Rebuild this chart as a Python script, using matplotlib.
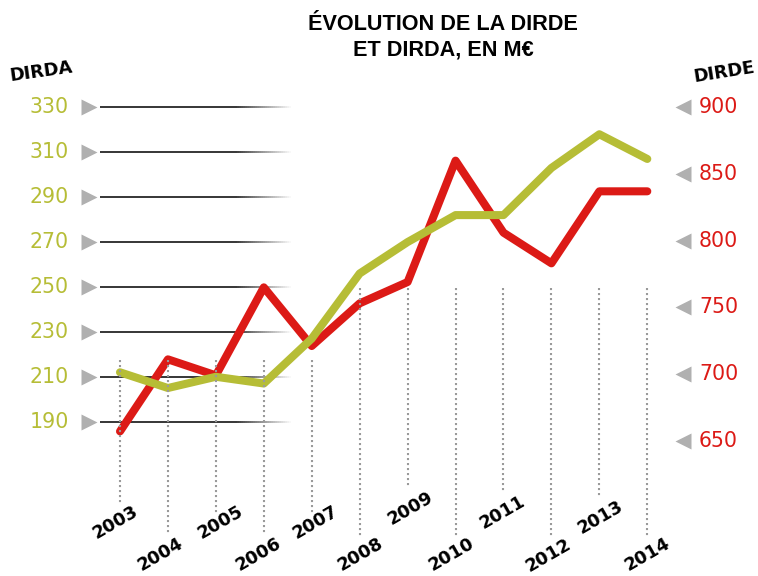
import numpy as np
import matplotlib
matplotlib.use('Agg')
import matplotlib.pyplot as plt
from matplotlib.collections import LineCollection

years = [2003, 2004, 2005, 2006, 2007, 2008, 2009, 2010, 2011, 2012, 2013, 2014]
dirda = [212, 205, 210, 207, 227, 256, 270, 282, 282, 303, 318, 307]   # M€, left axis
dirde = [657, 711, 699, 765, 721, 753, 769, 860, 806, 783, 837, 837]   # M€, right axis
left_ticks = [330, 310, 290, 270, 250, 230, 210, 190]
right_ticks = [900, 850, 800, 750, 700, 650]

GREEN = '#b6bd36'
RED = '#dc1a16'
GREY = '#b0b0b0'

W, H = 758, 576
# pixel <-> data mapping
XS = 47.936            # px per year
X0 = 2003 - 120 / XS   # year at px 0
LS = 2.2457            # px per M€ on left axis
RS = 1.3336            # px per M€ on right axis

def px_x(p):
    return X0 + p / XS

def py_left(p):
    return 330 - (p - 107.3) / LS

fig = plt.figure(figsize=(W / 100, H / 100), dpi=100)
ax = fig.add_axes([0, 0, 1, 1])
ax.set_xlim(X0, X0 + W / XS)
ax.set_ylim(330 - (H - 107.3) / LS, 330 + 107.3 / LS)
ax.axis('off')
ax2 = ax.twinx()
ax2.set_ylim(900 - (H - 107.3) / RS, 900 + 107.3 / RS)
ax2.axis('off')

## left ticks: label, grey arrow, black line fading out to the right
for v in left_ticks:
    ax.text(px_x(69), v, str(v), color=GREEN, fontsize=14.8, ha='right', va='center')
    ax.plot([px_x(88.5)], [v], marker='>', ms=11, color=GREY, mec='none')
    ax.plot([px_x(100), px_x(235)], [v, v], color='black', lw=1.1, solid_capstyle='butt', zorder=1)
    xs = np.linspace(235, 293, 30)
    segs = [[(px_x(a), v), (px_x(b), v)] for a, b in zip(xs[:-1], xs[1:])]
    alphas = np.linspace(1, 0, len(segs))
    cols = [(0, 0, 0, a) for a in alphas]
    ax.add_collection(LineCollection(segs, colors=cols, linewidths=1.1, zorder=1))

## right ticks
for v in right_ticks:
    ax2.text(px_x(699), v, str(v), color=RED, fontsize=14.8, ha='left', va='center')
    ax2.plot([px_x(682.5)], [v], marker='<', ms=11, color=GREY, mec='none')

## data lines (green drawn over red)
ax2.plot(years, dirde, color=RED, lw=5.8, solid_capstyle='round',
         solid_joinstyle='round', zorder=3)
ax3 = ax.twinx()
ax3.set_ylim(ax.get_ylim())
ax3.axis('off')
ax3.plot(years, dirda, color=GREEN, lw=5.8, solid_capstyle='round',
         solid_joinstyle='round', zorder=3)

## dotted year guides and staggered labels (on top)
tops = [360] * 5 + [288] * 7
bottoms = [505, 535, 513, 534, 513, 538, 488, 538, 492, 538, 498, 538]
lab_dx = [-5, -7, 5, -5, 4, 1, 3, -4, -1, -3, 1, 0]
lab_y = [522, 554, 522, 554, 522, 554, 508, 554, 512, 555, 517, 554]
for i, yr in enumerate(years):
    ax3.plot([yr, yr], [py_left(tops[i]), py_left(bottoms[i])], color='#9a9a9a',
             lw=1.5, linestyle=(0, (1, 1.4)), zorder=5)
    ax3.text(yr + lab_dx[i] / XS, py_left(lab_y[i]), str(yr), rotation=30,
             fontsize=12.8, fontweight='bold', ha='center', va='center', color='black')

## axis names and title
fig.text(41 / W, 1 - 72 / H, 'DIRDA', rotation=8, fontsize=12.8, fontweight='bold',
         ha='center', va='center')
fig.text(724 / W, 1 - 72 / H, 'DIRDE', rotation=9, fontsize=12.8, fontweight='bold',
         ha='center', va='center')
fig.text(443 / W, 1 - 37 / H, 'ÉVOLUTION DE LA DIRDE\nET DIRDA, EN M€',
         family='Liberation Sans', fontsize=15.6, fontweight='bold', ha='center',
         va='center', linespacing=1.3)

fig.savefig('out.png', dpi=100)
